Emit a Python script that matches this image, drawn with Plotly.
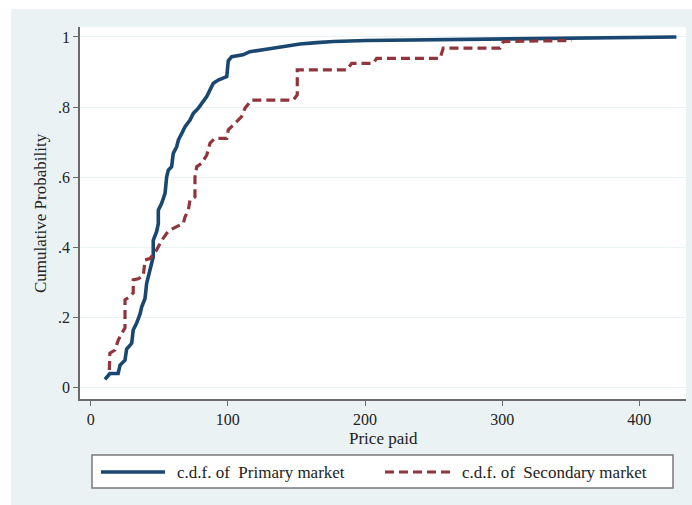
import plotly.graph_objects as go

# ---- data ----
primary_price = [10.4, 14, 20, 21.4, 25, 26.2, 29.9, 31, 33.5, 36, 37.2, 39.6, 40.8, 42, 43.2,
                 45.6, 45.6, 48.1, 49.3, 49.3, 51.8, 54.2, 55.4, 56.6, 59, 60.2, 62.7, 63.9,
                 66.4, 68.8, 72.4, 74.8, 78.5, 80.9, 84.6, 87, 89.4, 93, 99.2, 100.3, 102.8,
                 111, 116, 128, 140, 152.6, 164.8, 177, 201, 225.5, 242.5, 300.8, 405, 427]
primary_cdf = [0.023, 0.04, 0.04, 0.064, 0.078, 0.11, 0.126, 0.164, 0.184, 0.21, 0.23, 0.254,
               0.297, 0.316, 0.345, 0.373, 0.42, 0.445, 0.468, 0.506, 0.526, 0.554, 0.601,
               0.62, 0.63, 0.668, 0.687, 0.706, 0.725, 0.744, 0.763, 0.782, 0.797, 0.811,
               0.83, 0.849, 0.868, 0.877, 0.887, 0.932, 0.944, 0.949, 0.958, 0.965, 0.972,
               0.98, 0.984, 0.987, 0.99, 0.991, 0.993, 0.996, 1.0, 1.0]

secondary_price = [13.6, 14, 17.7, 20.1, 22, 25, 25, 28.7, 31, 31, 34.7, 38.4, 39.6, 43.2, 48,
                   51.8, 55.4, 57.8, 62.7, 67.5, 68.8, 71.2, 72.4, 76, 76, 77.3, 81, 84.6, 87,
                   90.6, 99.2, 100.3, 104, 110, 112.5, 116, 117.3, 147.7, 150.6, 150.6, 186.7,
                   190.3, 206, 208.5, 254.7, 257, 298.4, 300.8, 350.7]
secondary_cdf = [0.05, 0.098, 0.107, 0.135, 0.15, 0.17, 0.25, 0.26, 0.27, 0.307, 0.31, 0.32,
                 0.364, 0.368, 0.392, 0.42, 0.44, 0.449, 0.459, 0.468, 0.487, 0.506, 0.535,
                 0.544, 0.60, 0.63, 0.64, 0.663, 0.697, 0.711, 0.711, 0.735, 0.749, 0.773,
                 0.797, 0.815, 0.82, 0.82, 0.835, 0.906, 0.906, 0.925, 0.925, 0.939, 0.939,
                 0.968, 0.968, 0.987, 0.99]

x_ticks = [0, 100, 200, 300, 400]
y_ticks = [0, 0.2, 0.4, 0.6, 0.8, 1.0]
y_tick_labels = ["0", ".2", ".4", ".6", ".8", "1"]

series_names = ["c.d.f. of  Primary market", "c.d.f. of  Secondary market"]
x_title = "Price paid"
y_title = "Cumulative Probability"

BLUE = "#1a476f"
RED = "#90353b"
BG = "#eaf2f3"
AXIS = "#6a6a6a"
FONT = "Liberation Serif"
TXT = "#222222"
FS = 17
TFS = 16

fig = go.Figure()
fig.add_trace(go.Scatter(x=primary_price, y=primary_cdf, mode="lines",
                         line=dict(color=BLUE, width=3.6), name=series_names[0],
                         showlegend=False))
fig.add_trace(go.Scatter(x=secondary_price, y=secondary_cdf, mode="lines",
                         line=dict(color=RED, width=3.2, dash="9px,5px"),
                         name=series_names[1], showlegend=False))

W, H = 692, 505
ml, mr, mt, mb = 80, 6, 27, 106
pw, ph = W - ml - mr, H - mt - mb


def px(xp):
    return (xp - ml) / pw


def py(yp):
    return (H - mb - yp) / ph


shapes = [
    # graph region (light blue)
    dict(type="rect", xref="paper", yref="paper", x0=px(11), x1=px(692), y0=py(505), y1=py(9),
         fillcolor=BG, line=dict(width=0), layer="below"),
    # plot region (white)
    dict(type="rect", xref="paper", yref="paper", x0=0, x1=1, y0=0, y1=1,
         fillcolor="white", line=dict(width=0), layer="below"),
    # legend box
    dict(type="rect", xref="paper", yref="paper", x0=px(92), x1=px(673), y0=py(488), y1=py(455),
         fillcolor="white", line=dict(color="#7a7a7a", width=1.5)),
    # legend samples
    dict(type="line", xref="paper", yref="paper", x0=px(101), x1=px(165), y0=py(472), y1=py(472),
         line=dict(color=BLUE, width=3.6)),
    dict(type="line", xref="paper", yref="paper", x0=px(385), x1=px(451), y0=py(472), y1=py(472),
         line=dict(color=RED, width=3.2, dash="9px,5px")),
]

annotations = [
    dict(text=y_title, xref="paper", yref="paper", x=px(40), y=0.5, textangle=-90,
         showarrow=False, xanchor="center", yanchor="middle",
         font=dict(family=FONT, size=FS, color=TXT)),
    dict(text=x_title, xref="paper", yref="paper", x=0.5, y=py(439), showarrow=False,
         xanchor="center", yanchor="middle", font=dict(family=FONT, size=FS, color=TXT)),
    dict(text=series_names[0], xref="paper", yref="paper", x=px(175), y=py(472), showarrow=False,
         xanchor="left", yanchor="middle", font=dict(family=FONT, size=FS, color=TXT)),
    dict(text=series_names[1], xref="paper", yref="paper", x=px(460), y=py(472), showarrow=False,
         xanchor="left", yanchor="middle", font=dict(family=FONT, size=FS, color=TXT)),
]

fig.update_layout(
    width=W, height=H,
    margin=dict(l=ml, r=mr, t=mt, b=mb, pad=0),
    paper_bgcolor="white", plot_bgcolor="white",
    font=dict(family=FONT, size=FS, color=TXT),
    shapes=shapes, annotations=annotations,
    showlegend=False,
)
fig.update_xaxes(range=[-7.8, 434], tickvals=x_ticks, ticktext=[str(v) for v in x_ticks],
                 showline=True, linecolor=AXIS, linewidth=1.5, ticks="outside", ticklen=5,
                 tickcolor=AXIS, tickwidth=1.2, showgrid=False, zeroline=False,
                 tickfont=dict(family=FONT, size=TFS, color=TXT))
fig.update_yaxes(range=[-0.0328, 1.0285], tickvals=y_ticks, ticktext=y_tick_labels,
                 showline=True, linecolor=AXIS, linewidth=1.5, ticks="outside", ticklen=5,
                 tickcolor=AXIS, tickwidth=1.2, showgrid=True, gridcolor=BG, gridwidth=1.2,
                 zeroline=False, tickfont=dict(family=FONT, size=TFS, color=TXT))

fig.write_html("out.html", config={"displayModeBar": False},
               post_script="document.body.style.margin='0';document.body.style.padding='0';")
